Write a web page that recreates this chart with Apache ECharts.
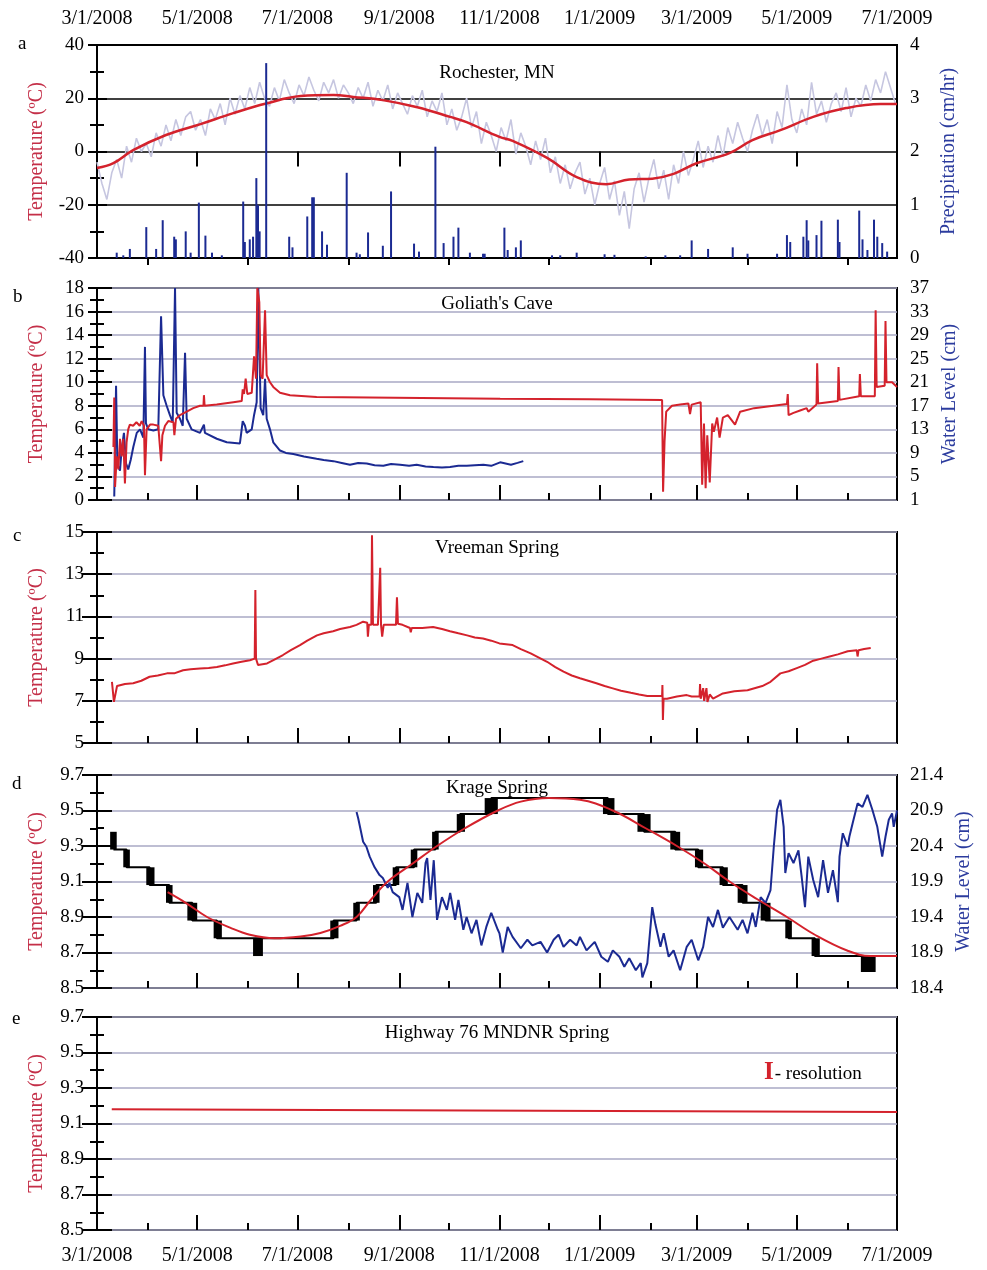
<!DOCTYPE html>
<html>
<head>
<meta charset="utf-8">
<script src="https://cdn.jsdelivr.net/npm/echarts@6/dist/echarts.min.js"></script>
<style>
html, body { margin: 0; padding: 0; background: #fff; }
#main { width: 987px; height: 1270px; }
</style>
</head>
<body>
<div id="main"></div>
<script>
// x values are days counted from 3/1/2008
const majorDays = [0, 61, 122, 184, 245, 306, 365, 426, 487]
const minorDays = [31, 92, 153, 214, 275, 337, 396, 457]
const dateLabels = ['3/1/2008', '5/1/2008', '7/1/2008', '9/1/2008', '11/1/2008', '1/1/2009', '3/1/2009', '5/1/2009', '7/1/2009']

const panelLetters = ['a', 'b', 'c', 'd', 'e']
const panelNames = ['Rochester, MN', "Goliath's Cave", 'Vreeman Spring', 'Krage Spring', 'Highway 76 MNDNR Spring']

// a: Rochester air temperature, one value every 3 days
const airStartDay = 0
const airStep = 3
const airTemp = [-4, -12, -18, -8, -3, -10, 2, -4, 5, 0, 3, -2, 7, 2, 10, 4, 12, 6, 13, 15,
  8, 12, 6, 16, 12, 18, 10, 20, 14, 21, 16, 24, 18, 26, 20, 17, 24, 19, 27, 22,
  18, 25, 21, 28, 23, 19, 26, 22, 27, 20, 25, 22, 18, 24, 20, 26, 17, 23, 19, 25,
  16, 22, 18, 14, 21, 17, 23, 13, 19, 15, 22, 10, 16, 8, 13, 20, 9, 15, 3, 11,
  6, 0, 9, 4, 12, -1, 7, 2, -5, 4, -3, 5, -8, -2, -12, -5, -14, -8, -4, -16,
  -10, -20, -12, -6, -18, -11, -24, -15, -29, -14, -8, -19, -10, -3, -14, -7, -18, -5, -12, 0,
  -9, -3, 4, -6, 2, -4, 6, -2, 9, 3, 11, 5, 0, 8, 14, 6, 12, 3, 15, 9,
  25, 12, 7, 16, 10, 26, 14, 19, 11, 18, 22, 15, 24, 13, 20, 17, 25, 19, 27, 22,
  30, 24, 18]
const airTempSmooth = [[0, -6.2], [10, -4.4], [22, 0.5], [42, 6.2], [63, 10.3], [83, 14.4], [103, 18],
  [124, 20.8], [144, 21.2], [156, 20.5], [174, 19.3], [195, 16.6], [215, 13], [225, 11], [245, 5.5],
  [253, 4], [274, -2.4], [292, -9.6], [310, -12.3], [324, -10.5], [338, -10.2], [351, -8.4],
  [365, -4.4], [385, -0.6], [399, 4.3], [416, 8], [436, 13], [456, 16.3], [477, 17.8], [487, 17.8]]
const precip = [[12, 0.1], [16, 0.05], [20, 0.17], [30, 0.58], [36, 0.17], [40, 0.71], [47, 0.4], [48, 0.35],
  [54, 0.5], [57, 0.1], [62, 1.04], [66, 0.42], [70, 0.1], [76, 0.05], [89, 1.06], [90, 0.3], [93, 0.35],
  [95, 0.4], [97, 1.5], [98, 0.99], [99, 0.5], [103, 3.66], [117, 0.4], [119, 0.2], [128, 0.78], [131, 1.14],
  [132, 1.14], [137, 0.5], [140, 0.25], [152, 1.6], [158, 0.1], [160, 0.07], [165, 0.48], [174, 0.23],
  [179, 1.25], [193, 0.27], [196, 0.12], [206, 2.09], [211, 0.28], [217, 0.4], [220, 0.57], [227, 0.1],
  [235, 0.08], [236, 0.08], [248, 0.57], [250, 0.15], [255, 0.2], [258, 0.33], [277, 0.05], [282, 0.05],
  [292, 0.1], [309, 0.07], [315, 0.06], [334, 0.03], [346, 0.05], [355, 0.05], [362, 0.33], [372, 0.17],
  [387, 0.2], [396, 0.08], [414, 0.08], [420, 0.43], [422, 0.3], [430, 0.4], [432, 0.71], [433, 0.33],
  [438, 0.43], [441, 0.7], [451, 0.72], [452, 0.3], [464, 0.89], [466, 0.35], [469, 0.15], [473, 0.72],
  [475, 0.4], [478, 0.28], [481, 0.12]]

// b: Goliath's Cave
const goliathTemp = [[10, 4.5], [10.5, 8.7], [11, 1.1], [12, 3.7], [13, 2.6], [14, 5.2], [15, 3.7], [16, 5.2],
  [17, 1.4], [18, 4.9], [19, 6.0], [20, 6.4], [22, 6.3], [24, 6.6], [26, 6.3], [27.2, 6.7], [28.6, 6.3],
  [29.2, 2.1], [30.2, 6.0], [32.3, 6.4], [34.3, 6.4], [37.3, 6.3], [39, 3.3], [39.8, 5.5], [41.4, 6.3],
  [43.4, 6.7], [46.5, 6.6], [47.1, 5.5], [48.1, 6.9], [50.5, 7.2], [54.6, 7.5], [58.6, 7.8], [62.7, 8.0],
  [64.8, 8.0], [65.1, 8.9], [65.5, 8.0], [72.9, 8.1], [83, 8.3], [88.1, 8.4], [88.7, 9.4], [89.5, 9.0],
  [90.5, 10.3], [91.5, 9.0], [94.2, 9.1], [95.6, 12.2], [96.8, 10.3], [97.6, 18], [98.8, 16.8], [99.6, 10.6],
  [100.8, 10.3], [102.3, 16.1], [103.3, 10.6], [105.3, 10], [107.3, 9.6], [111.4, 9.1], [117.5, 8.9],
  [133.7, 8.75], [245.4, 8.6], [300, 8.55], [344, 8.5], [344.6, 0.7], [345.5, 5.0], [346.5, 7.5],
  [350, 8.0], [355, 8.1], [360, 8.2], [361, 7.3], [362, 8.1], [367.5, 8.3], [368.4, 1.3], [369.5, 6.5],
  [370.5, 1.0], [371.5, 5.5], [373, 1.5], [374.5, 6.5], [375.5, 5.8], [377.5, 7.0], [379, 5.3], [381, 7.0],
  [384, 7.2], [388.4, 6.4], [391.5, 7.5], [400, 7.8], [420, 8.15], [420.5, 9.0], [421, 7.2], [424, 7.4],
  [428, 7.6], [432, 7.8], [433, 7.5], [438, 8.1], [438.4, 11.6], [439, 8.2], [451, 8.4], [451.4, 11.3],
  [452, 8.5], [464, 8.8], [464.4, 10.7], [465, 8.8], [473.5, 8.8], [474, 16.1], [474.6, 9.6], [479.5, 9.7],
  [480, 15.2], [480.6, 10.0], [484, 10.0], [487, 9.6]]
const goliathLevel = [[10.5, 1.6], [11.6, 20.4], [12.4, 7], [14, 6], [15, 9.6], [16.4, 12.4], [17.7, 7.2],
  [19, 6.2], [20.5, 7.8], [22.1, 10], [24.2, 12.4], [26.2, 13], [28.2, 11.6], [29.2, 27], [29.8, 14],
  [31.2, 13], [34.3, 12.8], [37.3, 13], [39, 32.2], [40.4, 18.8], [42.4, 17], [44.4, 15.4], [46.1, 14.2],
  [47.5, 37], [48.5, 15.8], [50.5, 14.8], [52.2, 13.6], [53.6, 26], [54.6, 14.8], [57.6, 13], [62.7, 12.4],
  [65.1, 13.8], [65.7, 12.4], [72.9, 11.4], [79, 10.8], [87, 10.6], [88.7, 14.4], [90.1, 13.6], [91.1, 12.4],
  [94.2, 13], [95.6, 15.4], [97.2, 17.6], [98.2, 37], [99.6, 16.6], [101.2, 15.4], [102.3, 21.6],
  [103.3, 14.8], [105.3, 13], [107.3, 10.8], [111.4, 9.4], [115, 9.0], [119.5, 8.8], [126, 8.4],
  [133.7, 8.0], [138, 7.8], [143.9, 7.6], [149, 7.3], [154, 7.0], [159, 7.3], [164.2, 7.2], [169, 6.9],
  [174.3, 6.8], [179, 7.1], [184.5, 7.0], [190, 6.8], [194.6, 7.0], [200, 6.7], [204.8, 6.6], [210, 6.5],
  [214.9, 6.6], [220, 6.8], [225.1, 6.8], [230, 6.9], [235.2, 7.0], [240, 6.8], [245.4, 7.4], [252, 7.0],
  [256, 7.3], [259.5, 7.6]]

// c: Vreeman Spring
const vreemanTemp = [[9.1, 7.9], [10.3, 6.95], [11, 7.0], [12.2, 7.7], [17, 7.8], [22, 7.83], [27, 7.95],
  [32, 8.14], [37, 8.2], [42.6, 8.3], [47, 8.3], [52.4, 8.45], [57, 8.5], [62.7, 8.53], [68, 8.55], [73, 8.6],
  [78, 8.68], [82.8, 8.77], [88, 8.85], [93.1, 8.92], [96, 9.0], [96.4, 12.25], [96.8, 9.0], [98, 8.7],
  [99.2, 8.65], [103.5, 8.77], [108, 8.95], [113.2, 9.17], [118, 9.4], [123.6, 9.64], [128, 9.85],
  [133.9, 10.1], [138, 10.2], [143.7, 10.3], [148, 10.4], [154, 10.5], [158, 10.6], [162, 10.75],
  [164.5, 10.7], [164.9, 10.04], [165.5, 10.6], [167, 10.6], [167.4, 14.85], [168, 10.6], [171, 10.6],
  [172.4, 13.3], [172.9, 10.6], [173.6, 10.04], [174.5, 10.6], [182, 10.6], [182.6, 11.9], [183.2, 10.65],
  [186, 10.6], [190.5, 10.45], [191, 10.25], [191.6, 10.45], [198, 10.45], [204.6, 10.5], [210, 10.4],
  [214.9, 10.3], [220, 10.2], [225.3, 10.1], [230, 10.0], [235, 9.95], [240, 9.85], [245, 9.72], [253, 9.64],
  [258, 9.45], [264, 9.25], [269, 9.05], [274, 8.85], [279, 8.6], [284, 8.38], [289, 8.2], [294, 8.07],
  [299, 7.95], [304, 7.83], [309, 7.7], [314, 7.59], [319, 7.48], [325, 7.38], [330, 7.3], [335, 7.23],
  [344, 7.23], [344.2, 7.75], [344.5, 6.09], [344.9, 7.1], [347, 7.1], [353, 7.2], [359, 7.27], [362, 7.2],
  [366.8, 7.2], [367.1, 7.8], [367.5, 7.1], [369, 7.6], [369.6, 7.0], [371, 7.6], [371.6, 6.95], [373, 7.3],
  [375, 7.1], [381, 7.35], [388, 7.45], [396, 7.5], [405, 7.7], [410, 7.9], [416, 8.3], [421, 8.4],
  [426, 8.55], [431, 8.7], [436, 8.9], [441, 9.0], [446, 9.1], [451, 9.2], [457, 9.35], [462.5, 9.4],
  [463, 9.1], [463.6, 9.4], [467, 9.45], [471, 9.5]]

// d: Krage Spring
const krageSteps = [[10, 9.28], [18, 9.18], [32, 9.08], [44, 8.98], [58, 8.88], [73, 8.78], [144, 8.88],
  [158, 8.98], [170, 9.08], [182, 9.18], [193, 9.28], [206, 9.38], [221, 9.48], [240, 9.57], [311, 9.48],
  [333, 9.38], [352, 9.28], [366, 9.18], [381, 9.08], [393, 8.98], [407, 8.88], [421, 8.78], [437, 8.68],
  [487, 8.68]]
// [start day, end day, low, high] where the logger flips between two readings
const krageFlips = [[8, 12, 9.28, 9.38], [16, 20, 9.18, 9.28], [30, 35, 9.08, 9.18], [42, 46, 8.98, 9.08],
  [55, 61, 8.88, 8.98], [71, 76, 8.78, 8.88], [95, 101, 8.68, 8.78], [142, 147, 8.78, 8.88],
  [156, 160, 8.88, 8.98], [168, 172, 8.98, 9.08], [180, 184, 9.08, 9.18], [191, 195, 9.18, 9.28],
  [204, 208, 9.28, 9.38], [219, 224, 9.38, 9.48], [236, 244, 9.48, 9.57], [308, 315, 9.48, 9.57],
  [329, 337, 9.38, 9.48], [349, 355, 9.28, 9.38], [364, 369, 9.18, 9.28], [379, 384, 9.08, 9.18],
  [390, 396, 8.98, 9.08], [404, 410, 8.88, 8.98], [419, 423, 8.78, 8.88], [435, 440, 8.68, 8.78],
  [465, 474, 8.59, 8.68]]
const krageFit = [[43, 9.04], [54, 8.98], [67, 8.9], [81, 8.84], [93, 8.8], [108, 8.78], [124, 8.79],
  [136, 8.81], [148, 8.85], [158, 8.9], [167, 9.0], [177, 9.1], [192, 9.2], [207, 9.3], [224, 9.4],
  [244, 9.5], [258, 9.55], [275, 9.57], [294, 9.56], [314, 9.5], [334, 9.4], [353, 9.3], [370, 9.2],
  [385, 9.1], [402, 9.0], [420, 8.9], [437, 8.8], [457, 8.71], [471, 8.68], [487, 8.68]]
const krageLevel = [[158, 20.88], [159, 20.79], [162, 20.46], [164, 20.39], [166, 20.25], [169, 20.1],
  [172, 19.99], [174, 19.95], [177, 19.81], [178, 19.88], [180, 19.75], [184, 19.68], [186, 19.5],
  [189, 19.88], [192, 19.4], [195, 19.74], [198, 19.6], [200, 20.16], [201, 20.23], [203, 19.64], [205, 20.2],
  [207, 19.36], [210, 19.68], [213, 19.5], [215, 19.74], [218, 19.36], [220, 19.64], [223, 19.22],
  [225, 19.4], [228, 19.17], [231, 19.36], [234, 19.0], [237, 19.26], [240, 19.46], [244, 19.22],
  [245, 19.17], [247, 18.9], [250, 19.26], [253, 19.12], [258, 18.96], [262, 19.08], [265, 19.0],
  [270, 19.05], [274, 18.9], [278, 19.08], [281, 19.15], [284, 18.98], [288, 19.08], [292, 19.0],
  [294, 19.12], [298, 18.93], [303, 19.05], [307, 18.84], [311, 18.77], [314, 18.93], [318, 18.84],
  [321, 18.7], [324, 18.82], [328, 18.65], [331, 18.75], [332, 18.55], [335, 18.75], [338, 19.54],
  [340, 19.29], [343, 18.98], [345, 19.17], [348, 18.84], [351, 18.93], [355, 18.65], [359, 18.98],
  [362, 19.08], [366, 18.79], [369, 18.98], [372, 19.4], [375, 19.26], [378, 19.5], [381, 19.25],
  [385, 19.4], [390, 19.22], [393, 19.36], [396, 19.17], [399, 19.46], [401, 19.26], [404, 19.68],
  [407, 19.6], [410, 19.78], [412, 20.39], [414, 20.91], [416, 21.05], [418, 20.67], [419, 20.02],
  [421, 20.3], [424, 20.16], [427, 20.34], [429, 19.96], [431, 19.54], [433, 20.25], [436, 19.92],
  [439, 19.68], [442, 20.2], [445, 19.74], [448, 20.06], [451, 19.61], [452, 20.25], [454, 20.58],
  [457, 20.39], [458, 20.53], [460, 20.72], [463, 21.0], [466, 20.95], [469, 21.12], [472, 20.91],
  [475, 20.67], [478, 20.25], [480, 20.53], [482, 20.77], [484, 20.86], [485, 20.67], [487, 20.9]]

// e: Highway 76 MNDNR Spring
const highwayTemp = [[9, 9.18], [487, 9.165]]

const FONT = 'Liberation Serif'
const RED = '#d4222c'
const RED_NAME = '#c42f48'
const BLUE = '#1b2a92'
const BLUE_NAME = '#2c3c9e'
const GRIDLINE = {color: '#a9a9c4', width: 1.5}

const panels = [
  {top: 45, height: 213, titleDy: 19, letterX: 18, letterY: 45},
  {top: 288, height: 212, titleDy: 7, letterX: 13, letterY: 298},
  {top: 532, height: 211, titleDy: 7, letterX: 13, letterY: 537},
  {top: 775, height: 213, titleDy: 4, letterX: 12, letterY: 785},
  {top: 1017, height: 213, titleDy: 7, letterX: 12, letterY: 1020}
]

const grid = panels.map(p => ({
  left: 97, width: 800, top: p.top, height: p.height,
  show: true, borderColor: '#000', borderWidth: 2, backgroundColor: 'transparent'
}))

// two x axes per panel: long ticks on labelled months, short ticks between
function xAxesFor(gi, pos, showLabels) {
  const base = {
    type: 'value', gridIndex: gi, min: 0, max: 487, position: pos,
    axisLine: {show: false}, splitLine: {show: false}
  }
  return [
    Object.assign({}, base, {
      axisTick: {show: true, inside: true, length: 15, customValues: majorDays, lineStyle: {color: '#000', width: 2}},
      axisLabel: {
        show: showLabels, customValues: majorDays, margin: 16,
        fontFamily: FONT, fontSize: 20, color: '#000',
        formatter: v => dateLabels[majorDays.indexOf(v)]
      }
    }),
    Object.assign({}, base, {
      axisTick: {show: true, inside: true, length: 7, customValues: minorDays, lineStyle: {color: '#000', width: 2}},
      axisLabel: {show: false}
    })
  ]
}

function yAxisFor(gi, pos, min, max, interval, o) {
  return {
    type: 'value', gridIndex: gi, position: pos, min: min, max: max, interval: interval,
    name: o.name || '', nameLocation: 'middle', nameGap: o.nameGap || 50,
    nameTextStyle: {color: o.nameColor || '#000', fontFamily: FONT, fontSize: 20},
    axisLine: {show: false},
    axisTick: {show: true, inside: true, length: o.tickLen || 15, lineStyle: {color: '#000', width: 2}},
    minorTick: {show: true, splitNumber: 2, length: 7, lineStyle: {color: '#000', width: 2}},
    axisLabel: {
      show: o.labels !== false, margin: 13, fontFamily: FONT, fontSize: 19, color: '#000',
      formatter: o.fmt
    },
    splitLine: o.split ? {show: true, lineStyle: o.split} : {show: false}
  }
}

const fix1 = v => v.toFixed(1)

const xAxis = [].concat(
  xAxesFor(0, 'top', true),
  xAxesFor(1, 'bottom', false),
  xAxesFor(2, 'bottom', false),
  xAxesFor(3, 'bottom', false),
  xAxesFor(4, 'bottom', true)
)

const yAxis = [
  yAxisFor(0, 'left', -40, 40, 20, {name: 'Temperature (ºC)', nameColor: RED_NAME, tickLen: 10, split: {color: '#000', width: 1.5}}),
  yAxisFor(0, 'right', 0, 4, 1, {name: 'Precipitation (cm/hr)', nameColor: BLUE_NAME, nameGap: 42, tickLen: 9}),
  yAxisFor(1, 'left', 0, 18, 2, {name: 'Temperature (ºC)', nameColor: RED_NAME, split: GRIDLINE}),
  yAxisFor(1, 'right', 1, 37, 4, {name: 'Water Level (cm)', nameColor: BLUE_NAME, nameGap: 40, tickLen: 9}),
  yAxisFor(2, 'left', 5, 15, 2, {name: 'Temperature (ºC)', nameColor: RED_NAME, split: GRIDLINE}),
  yAxisFor(2, 'right', 5, 15, 2, {labels: false}),
  yAxisFor(3, 'left', 8.5, 9.7, 0.2, {name: 'Temperature (ºC)', nameColor: RED_NAME, split: GRIDLINE, fmt: fix1}),
  yAxisFor(3, 'right', 18.4, 21.4, 0.5, {name: 'Water Level (cm)', nameColor: BLUE_NAME, nameGap: 46, fmt: fix1}),
  yAxisFor(4, 'left', 8.5, 9.7, 0.2, {name: 'Temperature (ºC)', nameColor: RED_NAME, split: GRIDLINE, fmt: fix1}),
  yAxisFor(4, 'right', 8.5, 9.7, 0.2, {labels: false})
]

function lineSeries(xi, yi, data, color, width, extra) {
  return Object.assign({
    type: 'line', xAxisIndex: xi, yAxisIndex: yi, data: data,
    showSymbol: false, symbol: 'none', lineStyle: {color: color, width: width}
  }, extra || {})
}

const series = [
  lineSeries(0, 0, airTemp.map((v, i) => [airStartDay + i * airStep, v]), '#c6c6e0', 1.6, {z: 1}),
  lineSeries(0, 0, airTempSmooth, RED, 2.5, {smooth: 0.4, z: 2}),
  {type: 'bar', xAxisIndex: 0, yAxisIndex: 1, data: precip, barWidth: 2, itemStyle: {color: BLUE}, z: 3},

  lineSeries(2, 3, goliathLevel, BLUE, 2, {z: 2}),
  lineSeries(2, 2, goliathTemp, RED, 2, {z: 3}),

  lineSeries(4, 4, vreemanTemp, RED, 2, {z: 2}),

  {
    type: 'custom', xAxisIndex: 6, yAxisIndex: 6, data: krageFlips, z: 1,
    encode: {x: [0, 1], y: [2, 3]},
    renderItem: (params, api) => {
      const p0 = api.coord([api.value(0), api.value(3)])
      const p1 = api.coord([api.value(1), api.value(2)])
      return {
        type: 'rect',
        shape: {x: p0[0], y: p0[1], width: p1[0] - p0[0], height: p1[1] - p0[1]},
        style: {fill: '#000'}
      }
    }
  },
  lineSeries(6, 6, krageSteps, '#000', 2, {step: 'end', z: 1}),
  lineSeries(6, 7, krageLevel, BLUE, 2, {z: 2}),
  lineSeries(6, 6, krageFit, RED, 2, {smooth: 0.4, z: 3}),

  lineSeries(8, 8, highwayTemp, RED, 2, {z: 2})
]

const titleStyle = {fontFamily: FONT, fontSize: 19, fontWeight: 'normal', color: '#000'}
const title = []
panels.forEach((p, i) => {
  title.push({text: panelLetters[i], left: p.letterX, top: p.letterY - 10, padding: 0, textStyle: titleStyle})
  title.push({text: panelNames[i], left: 497, top: p.top + p.titleDy, textAlign: 'center', padding: 0, textStyle: titleStyle})
})
title.push({
  text: '{r|I}{t|- resolution}', left: 764, top: 1060, padding: 0,
  textStyle: {
    fontWeight: 'normal',
    rich: {
      r: {fontFamily: FONT, fontSize: 25, fontWeight: 'bold', color: RED},
      t: {fontFamily: FONT, fontSize: 19, fontWeight: 'normal', color: '#000', padding: [3, 0, 0, 1]}
    }
  }
})

const option = {
  animation: false,
  backgroundColor: '#fff',
  title: title,
  grid: grid,
  xAxis: xAxis,
  yAxis: yAxis,
  series: series
}

const chart = echarts.init(document.getElementById('main'))
chart.setOption(option)
</script>
</body>
</html>
